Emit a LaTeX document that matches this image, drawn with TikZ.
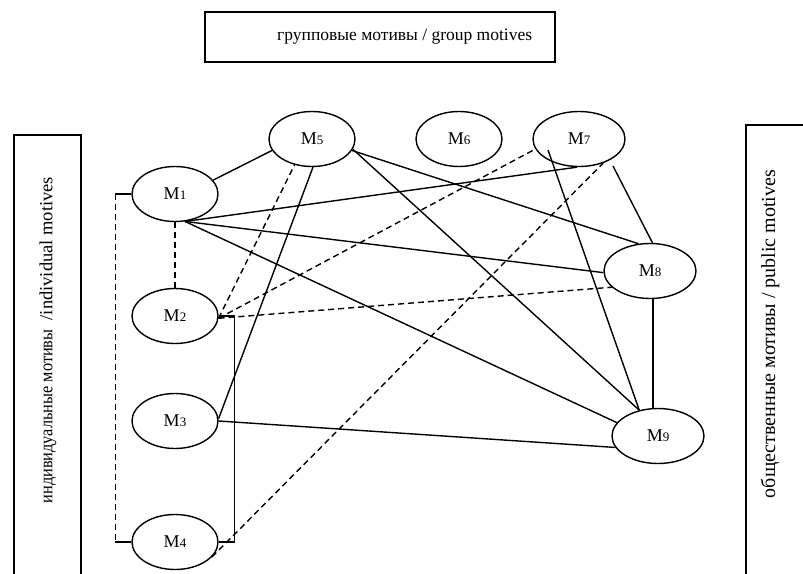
\documentclass[tikz,border=0pt]{standalone}
\usepackage{fontspec}
\setmainfont{Liberation Serif}
\usetikzlibrary{shapes.geometric,calc}
\begin{document}
\begin{tikzpicture}[x=1pt,y=-1pt,
  mnode/.style={draw,ellipse,line width=1.4pt,minimum width=86pt,minimum height=55pt,inner sep=0pt,font=\fontsize{18}{18}\selectfont},
  wide/.style={minimum width=92pt},
  link/.style={line width=1.4pt},
  dlink/.style={line width=1.4pt,dash pattern=on 6pt off 4pt},
  frame/.style={draw,line width=1.8pt,inner sep=0pt},
  btext/.style={font=\fontsize{20}{20}\selectfont,inner sep=0pt}]
\useasboundingbox (0,0) rectangle (803,573);
\clip (0,0) rectangle (803,573);
% boxes
\node (G) [frame,minimum width=350pt,minimum height=50pt] at (380,37) {};
\node (Gt) [btext,anchor=west,font=\fontsize{17.5}{17.5}\selectfont] at (277,37) {групповые мотивы / group motives};
\node (I) [frame,anchor=north west,minimum width=67pt,minimum height=470pt] at (13,134) {};
\node (It) [btext,rotate=90,font=\fontsize{18.5}{18.5}\selectfont] at (48,340) {\scalebox{0.88}[1]{индивидуальные мотивы}\ \ /individual motives};
\node (P) [frame,anchor=north west,minimum width=80pt,minimum height=470pt] at (745,124) {};
\node (Pt) [btext,rotate=90] at (770,334) {общественные мотивы / public motives};
% motive nodes
\node (M1) [mnode] at (175,194) {M{\fontsize{13}{13}\selectfont 1}};
\node (M2) [mnode] at (175,316) {M{\fontsize{13}{13}\selectfont 2}};
\node (M3) [mnode] at (175,421) {M{\fontsize{13}{13}\selectfont 3}};
\node (M4) [mnode] at (175,542) {M{\fontsize{13}{13}\selectfont 4}};
\node (M5) [mnode] at (312,139) {M{\fontsize{13}{13}\selectfont 5}};
\node (M6) [mnode] at (459,139) {M{\fontsize{13}{13}\selectfont 6}};
\node (M7) [mnode,wide] at (579,139) {M{\fontsize{13}{13}\selectfont 7}};
\node (M8) [mnode,wide] at (650,271) {M{\fontsize{13}{13}\selectfont 8}};
\node (M9) [mnode,wide] at (658,436) {M{\fontsize{13}{13}\selectfont 9}};
% connectors
\draw[link] (M1.20) -- (M5.196);
\draw[dlink] (M1.south) -- (M2.north);
\draw[link] (M1.-70) -- (M7.-94);
\draw[link] (M1.-70) -- (M8.182);
\draw[link] (M1.-70) -- (M9.162);
\draw[dlink] (M2.-3) -- (M5.236);
\draw[dlink] (M2.-3) -- (M7.193);
\draw[dlink] (M2.-3) -- (M8.203);
\draw[link] (M3.3) -- (M5.-88);
\draw[link] (M3.east) -- (M9.195);
\draw[dlink] (M4.-22) -- (M7.-45);
\draw[link] (M5.-16) -- (M8.113);
\draw[link] (M5.-14) -- (M9.126);
\coordinate (m7in) at ($(M7.center)+(-31,11)$);
\draw[link] (m7in) -- (M9.126);
\coordinate (m7out) at ($(M7.center)+(34,27)$);
\draw[link] (m7out) -- (M8.85);
\coordinate (m8b) at ($(M8.south)+(3,0)$);
\draw[link] (m8b) -- (m8b |- M9.north);
% brackets
\coordinate (lt) at ($(M1.west)+(-16,0)$);
\draw[link] (M1.west) -- (lt);
\draw[link] (M4.west) -- (M4.west -| lt);
\draw[dlink] (lt) -- (M4.west -| lt);
\draw[link] (M2.east) -- ++(16,0) |- (M4.east);
\end{tikzpicture}
\end{document}
